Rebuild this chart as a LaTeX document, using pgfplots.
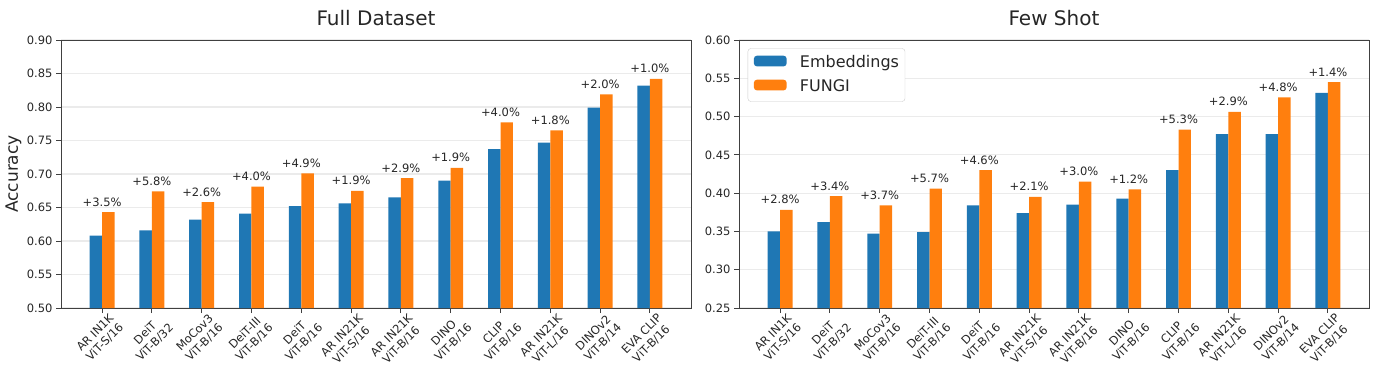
\documentclass[border=0pt]{standalone}
\usepackage{fontspec}
\setmainfont{DejaVu Sans}
\usepackage{pgfplots}
\usepackage{pgfplotstable}
\pgfplotsset{compat=1.18}
\definecolor{tabblue}{HTML}{1F77B4}
\definecolor{taborange}{HTML}{FF7F0E}
\definecolor{gridgray}{HTML}{EBEBEB}
\definecolor{framegray}{HTML}{404040}
\definecolor{txt}{HTML}{262626}

\pgfplotstableread{
x e f lab
0 0.608 0.643 +3.5\%
1 0.616 0.674 +5.8\%
2 0.632 0.658 +2.6\%
3 0.641 0.681 +4.0\%
4 0.652 0.701 +4.9\%
5 0.656 0.675 +1.9\%
6 0.665 0.694 +2.9\%
7 0.690 0.709 +1.9\%
8 0.737 0.777 +4.0\%
9 0.747 0.765 +1.8\%
10 0.799 0.819 +2.0\%
11 0.832 0.842 +1.0\%
}\fulldata

\pgfplotstableread{
x e f lab
0 0.350 0.378 +2.8\%
1 0.362 0.396 +3.4\%
2 0.347 0.384 +3.7\%
3 0.349 0.406 +5.7\%
4 0.384 0.430 +4.6\%
5 0.374 0.395 +2.1\%
6 0.385 0.415 +3.0\%
7 0.393 0.405 +1.2\%
8 0.430 0.483 +5.3\%
9 0.477 0.506 +2.9\%
10 0.477 0.525 +4.8\%
11 0.531 0.545 +1.4\%
}\fewdata

\pgfplotsset{
  mychart/.style={
    scale only axis, width=630pt, height=268pt,
    xmin=-0.825, xmax=11.825,
    xtick={0,...,11},
    xticklabels={{AR IN1K\\ViT-S/16},{DeiT\\ViT-B/32},{MoCov3\\ViT-B/16},{DeiT-III\\ViT-B/16},{DeiT\\ViT-B/16},{AR IN21K\\ViT-S/16},{AR IN21K\\ViT-B/16},{DINO\\ViT-B/16},{CLIP\\ViT-B/16},{AR IN21K\\ViT-L/16},{DINOv2\\ViT-B/14},{EVA CLIP\\ViT-B/16}},
    tick label style={font=\fontsize{11.5}{13.5}\selectfont, text=txt},
    xticklabel style={rotate=45, anchor=north east, align=center, xshift=8pt, yshift=-1pt},
    yticklabel style={/pgf/number format/fixed, /pgf/number format/fixed zerofill, /pgf/number format/precision=2},
    /pgf/number format/assume math mode=true,
    ymajorgrids, grid style={gridgray, line width=1.2pt},
    tick align=outside, tick pos=left, major tick length=5pt,
    major tick style={framegray, line width=0.9pt},
    axis line style={framegray, line width=0.9pt},
    title style={font=\fontsize{20}{24}\selectfont, text=txt, at={(0.5,1)}, anchor=base, yshift=8.5pt},
    nodes near coords style={anchor=base, yshift=6pt, inner sep=0pt, font=\fontsize{11.5}{13.5}\selectfont, text=txt},
  },
  bluebar/.style={ybar, bar width=0.25, bar shift=-0.125, fill=tabblue, draw=none,
    legend image code/.code={\fill[tabblue] (0pt,-3.4pt) rectangle (32.7pt,7.3pt);}},
  orangebar/.style={ybar, bar width=0.25, bar shift=0.125, fill=taborange, draw=none,
    legend image code/.code={\fill[taborange] (0pt,-3.4pt) rectangle (32.7pt,7.3pt);}},
  annot/.style={draw=none, mark=none, forget plot, nodes near coords, point meta=explicit symbolic},
}

\begin{document}
\begin{tikzpicture}
\useasboundingbox (0pt,0pt) rectangle (1384pt,378pt);
\begin{axis}[mychart, at={(61pt,70pt)}, anchor=south west,
  ymin=0.50, ymax=0.90, ytick={0.50,0.55,0.60,0.65,0.70,0.75,0.80,0.85,0.90},
  title={Full Dataset},
  ylabel={Accuracy},
  ylabel style={font=\fontsize{17}{20}\selectfont, text=txt, at={(axis description cs:-0.0683,0.5)}, anchor=base},
]
\addplot[bluebar] table[x=x, y=e] {\fulldata};
\addplot[orangebar] table[x=x, y=f] {\fulldata};
\addplot[annot] table[x=x, y=f, meta=lab] {\fulldata};
\end{axis}
\begin{axis}[mychart, at={(739pt,70pt)}, anchor=south west,
  ymin=0.25, ymax=0.60, ytick={0.25,0.30,0.35,0.40,0.45,0.50,0.55,0.60},
  title={Few Shot},
  legend style={at={(axis description cs:0,1)}, anchor=north west, xshift=8.7pt, yshift=-8.3pt,
    draw=black!20, rounded corners=3pt, fill=white, font=\fontsize{16}{19}\selectfont, text=txt,
    inner xsep=6pt, inner ysep=6.5pt, row sep=8pt, column sep=0pt,
    nodes={inner sep=0pt, text height=12pt, text depth=4pt}},
  legend cell align=left,
]
\addplot[bluebar] table[x=x, y=e] {\fewdata};
\addplot[orangebar] table[x=x, y=f] {\fewdata};
\addplot[annot] table[x=x, y=f, meta=lab] {\fewdata};
\legend{\hspace{13.3pt}Embeddings, \hspace{13.3pt}FUNGI}
\end{axis}
\end{tikzpicture}
\end{document}
